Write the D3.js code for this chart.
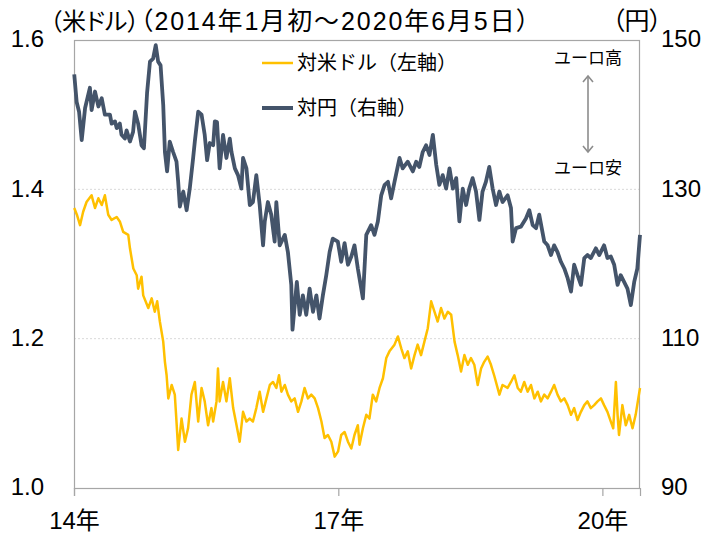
<!DOCTYPE html>
<html><head><meta charset="utf-8">
<script src="https://cdn.jsdelivr.net/npm/d3@7"></script>
<style>
html,body{margin:0;padding:0;background:#fff;}
svg{display:block;font-family:"Liberation Sans","Noto Sans CJK JP",sans-serif;}
.palt{font-feature-settings:"palt" 1;}
</style></head><body>
<svg id="chart" width="704" height="534"></svg>
<script>
// ---- data ----
const eurUsd = [
["2014-01-02",1.375],["2014-01-13",1.366],["2014-01-26",1.352],["2014-02-08",1.370],["2014-02-22",1.383],
["2014-03-15",1.392],["2014-03-29",1.375],["2014-04-12",1.388],["2014-04-26",1.379],["2014-05-09",1.392],
["2014-05-23",1.366],["2014-06-06",1.359],["2014-06-27",1.363],["2014-07-10",1.357],["2014-07-24",1.343],
["2014-08-14",1.339],["2014-08-21",1.321],["2014-09-04",1.294],["2014-09-18",1.285],["2014-09-24",1.267],
["2014-10-08",1.283],["2014-10-15",1.258],["2014-11-05",1.241],["2014-11-19",1.254],["2014-12-02",1.236],
["2014-12-12",1.250],["2014-12-23",1.223],["2015-01-06",1.196],["2015-01-13",1.169],["2015-01-20",1.151],
["2015-01-27",1.120],["2015-02-10",1.138],["2015-02-23",1.125],["2015-03-02",1.089],["2015-03-09",1.051],
["2015-03-23",1.093],["2015-04-06",1.062],["2015-04-19",1.080],["2015-05-03",1.125],["2015-05-17",1.142],
["2015-05-31",1.089],["2015-06-14",1.134],["2015-06-27",1.116],["2015-07-11",1.084],["2015-07-25",1.107],
["2015-08-01",1.089],["2015-08-15",1.116],["2015-08-21",1.160],["2015-08-28",1.116],["2015-09-11",1.142],
["2015-09-25",1.116],["2015-10-09",1.147],["2015-10-23",1.107],["2015-11-06",1.084],["2015-11-19",1.062],
["2015-12-03",1.102],["2015-12-17",1.089],["2015-12-31",1.093],["2016-01-13",1.089],["2016-01-27",1.107],
["2016-02-10",1.129],["2016-02-24",1.102],["2016-03-09",1.120],["2016-03-23",1.138],["2016-04-05",1.142],
["2016-04-19",1.134],["2016-04-30",1.151],["2016-05-10",1.129],["2016-05-24",1.138],["2016-06-06",1.125],
["2016-06-20",1.116],["2016-07-04",1.120],["2016-07-18",1.102],["2016-08-01",1.116],["2016-08-14",1.134],
["2016-08-28",1.120],["2016-09-11",1.125],["2016-09-25",1.120],["2016-10-09",1.107],["2016-10-23",1.089],
["2016-11-05",1.067],["2016-11-19",1.071],["2016-12-03",1.062],["2016-12-17",1.042],["2016-12-31",1.049],
["2017-01-13",1.071],["2017-01-27",1.075],["2017-02-10",1.062],["2017-02-24",1.053],["2017-03-09",1.071],
["2017-03-23",1.084],["2017-03-30",1.058],["2017-04-13",1.080],["2017-04-27",1.098],["2017-05-10",1.093],
["2017-05-24",1.125],["2017-06-07",1.116],["2017-06-21",1.134],["2017-07-05",1.147],["2017-07-19",1.174],
["2017-08-01",1.183],["2017-08-22",1.192],["2017-09-05",1.203],["2017-09-19",1.187],["2017-10-02",1.174],
["2017-10-16",1.183],["2017-10-30",1.160],["2017-11-13",1.178],["2017-11-26",1.192],["2017-12-10",1.178],
["2017-12-24",1.196],["2018-01-07",1.214],["2018-01-21",1.250],["2018-02-04",1.236],["2018-02-17",1.223],
["2018-03-03",1.241],["2018-03-17",1.227],["2018-03-31",1.236],["2018-04-14",1.232],["2018-04-28",1.196],
["2018-05-11",1.178],["2018-05-25",1.156],["2018-06-08",1.178],["2018-06-22",1.165],["2018-07-05",1.174],
["2018-07-19",1.165],["2018-08-02",1.138],["2018-08-16",1.160],["2018-08-29",1.169],["2018-09-12",1.176],
["2018-09-26",1.165],["2018-10-10",1.150],["2018-10-31",1.125],["2018-11-13",1.138],["2018-12-04",1.134],
["2018-12-18",1.142],["2019-01-01",1.151],["2019-01-15",1.134],["2019-01-28",1.129],["2019-02-11",1.142],
["2019-02-25",1.129],["2019-03-11",1.138],["2019-03-25",1.120],["2019-04-08",1.129],["2019-04-21",1.116],
["2019-05-05",1.125],["2019-05-19",1.120],["2019-06-02",1.129],["2019-06-15",1.138],["2019-06-29",1.125],
["2019-07-13",1.116],["2019-07-27",1.120],["2019-08-10",1.111],["2019-08-24",1.098],["2019-09-06",1.107],
["2019-09-20",1.091],["2019-10-04",1.102],["2019-10-18",1.111],["2019-10-31",1.116],["2019-11-14",1.107],
["2019-11-28",1.111],["2019-12-12",1.116],["2019-12-26",1.120],["2020-01-08",1.111],["2020-01-22",1.102],
["2020-02-05",1.089],["2020-02-15",1.080],["2020-02-26",1.142],["2020-03-04",1.098],["2020-03-10",1.071],
["2020-03-24",1.111],["2020-04-07",1.084],["2020-04-21",1.098],["2020-05-05",1.080],["2020-05-18",1.098],
["2020-06-05",1.134]
];
const eurJpy = [
["2014-01-02",145.4],["2014-01-12",141.7],["2014-01-22",140.4],["2014-02-02",136.6],["2014-02-16",140.9],
["2014-03-08",143.6],["2014-03-15",140.6],["2014-03-29",143.1],["2014-04-12",141.1],["2014-04-26",142.2],
["2014-05-09",140.0],["2014-05-30",140.0],["2014-06-06",138.8],["2014-06-20",139.1],["2014-06-27",138.2],
["2014-07-10",138.8],["2014-07-17",137.3],["2014-07-31",136.8],["2014-08-07",137.9],["2014-08-21",136.4],
["2014-09-03",137.7],["2014-09-11",140.4],["2014-09-24",138.8],["2014-10-08",135.9],["2014-10-18",135.5],
["2014-10-31",142.9],["2014-11-12",147.1],["2014-11-25",147.5],["2014-12-06",149.3],["2014-12-16",147.1],
["2014-12-26",146.6],["2015-01-06",141.3],["2015-01-13",135.0],["2015-01-22",132.4],["2015-02-02",136.4],
["2015-02-16",135.0],["2015-03-02",133.7],["2015-03-09",131.0],["2015-03-16",127.7],["2015-03-30",129.7],
["2015-04-13",127.2],["2015-04-26",130.1],["2015-05-10",134.2],["2015-05-17",136.4],["2015-05-31",140.4],
["2015-06-14",140.0],["2015-06-27",137.3],["2015-07-07",133.9],["2015-07-18",136.2],["2015-08-01",135.9],
["2015-08-08",139.1],["2015-08-17",139.0],["2015-08-28",132.8],["2015-09-11",137.3],["2015-09-25",134.2],
["2015-10-09",136.8],["2015-10-16",135.0],["2015-10-30",132.8],["2015-11-12",131.9],["2015-11-26",130.1],
["2015-12-03",134.2],["2015-12-17",132.8],["2015-12-31",127.9],["2016-01-13",128.3],["2016-01-27",131.9],
["2016-02-10",127.9],["2016-02-24",122.5],["2016-03-02",125.7],["2016-03-15",128.3],["2016-03-29",126.6],
["2016-04-12",123.0],["2016-04-19",128.3],["2016-05-03",122.5],["2016-05-24",123.9],["2016-06-06",121.6],
["2016-06-20",117.2],["2016-06-25",111.2],["2016-07-13",117.6],["2016-07-25",113.2],["2016-08-07",115.8],
["2016-08-21",113.2],["2016-09-04",116.7],["2016-09-18",113.6],["2016-10-02",115.8],["2016-10-15",112.7],
["2016-10-29",115.8],["2016-11-12",118.5],["2016-11-26",121.6],["2016-12-09",123.4],["2016-12-30",123.0],
["2017-01-13",120.3],["2017-01-27",122.8],["2017-02-10",119.9],["2017-02-24",121.0],["2017-03-09",122.5],
["2017-03-23",119.4],["2017-04-13",115.4],["2017-04-27",123.9],["2017-05-17",125.2],["2017-05-31",123.9],
["2017-06-14",125.7],["2017-06-28",129.2],["2017-07-12",130.6],["2017-07-26",131.0],["2017-08-08",128.8],
["2017-08-22",131.0],["2017-09-12",134.2],["2017-09-25",132.8],["2017-10-16",133.7],["2017-11-06",132.4],
["2017-11-20",133.7],["2017-12-03",133.0],["2017-12-17",135.0],["2017-12-31",135.9],["2018-01-14",134.6],
["2018-01-28",137.3],["2018-02-11",133.3],["2018-02-24",130.6],["2018-03-10",131.9],["2018-03-24",130.1],
["2018-04-07",132.8],["2018-04-21",130.1],["2018-05-05",131.5],["2018-05-18",125.7],["2018-06-01",130.1],
["2018-06-15",127.9],["2018-06-28",130.1],["2018-07-12",131.5],["2018-07-26",129.7],["2018-08-09",125.9],
["2018-08-22",129.7],["2018-09-05",131.0],["2018-09-19",133.0],["2018-10-03",130.1],["2018-10-17",127.9],
["2018-10-31",129.7],["2018-11-13",128.3],["2018-12-04",129.2],["2018-12-18",127.5],["2018-12-25",123.0],
["2019-01-08",124.8],["2019-01-28",125.0],["2019-02-18",126.1],["2019-03-04",127.2],["2019-03-18",125.2],
["2019-04-01",124.8],["2019-04-14",126.6],["2019-05-05",123.0],["2019-05-19",122.5],["2019-06-02",121.2],
["2019-06-15",122.5],["2019-06-29",121.6],["2019-07-13",120.3],["2019-07-27",119.4],["2019-08-10",118.1],
["2019-08-24",116.3],["2019-09-06",119.9],["2019-09-20",118.5],["2019-10-04",117.2],["2019-10-18",120.8],
["2019-10-31",121.2],["2019-11-14",120.8],["2019-12-05",122.1],["2019-12-19",121.2],["2020-01-08",122.5],
["2020-01-22",120.8],["2020-02-05",121.0],["2020-02-19",119.9],["2020-03-04",117.2],["2020-03-17",118.5],
["2020-03-31",117.6],["2020-04-14",116.7],["2020-04-28",114.5],["2020-05-12",117.6],["2020-05-25",119.4],
["2020-06-05",123.9]
];
const leftTicks = [1.0, 1.2, 1.4, 1.6];
const rightTicks = [90, 110, 130, 150];
const gridTicks = [1.2, 1.4];
const xTickDates = ["2014-01-01", "2017-01-01", "2020-01-01"];
const xTickLabels = ["14年", "17年", "20年"];
const xDomain = ["2014-01-01", "2020-06-05"];
const leftDomain = [1.0, 1.6];
const rightDomain = [90, 150];
const seriesNames = ["対米ドル（左軸）", "対円（右軸）"];
const titleLeft = "（米ドル）";
const titleRange = "（2014年1月初～2020年6月5日）";
const titleRight = "（円）";
const noteUp = "ユーロ高";
const noteDown = "ユーロ安";

// ---- drawing ----
const W = 704, H = 534;
const m = {left: 74, right: 64, top: 40, bottom: 46};
const svg = d3.select("#chart");
const parse = d3.timeParse("%Y-%m-%d");
const x = d3.scaleTime().domain(xDomain.map(parse)).range([m.left, W - m.right]);
const yL = d3.scaleLinear().domain(leftDomain).range([H - m.bottom, m.top]);
const yR = d3.scaleLinear().domain(rightDomain).range([H - m.bottom, m.top]);
const gray = "#A6A6A6";
const YELLOW = "#FFC000", NAVY = "#44546A";
const TICK_FS = 24;

// grid
svg.append("g").selectAll("line").data(gridTicks).join("line")
  .attr("x1", m.left).attr("x2", W - m.right)
  .attr("y1", d => yL(d)).attr("y2", d => yL(d))
  .attr("stroke", "#D9D9D9").attr("stroke-width", 1).attr("stroke-dasharray", "2,2");

// plot border
svg.append("rect")
  .attr("x", m.left + 0.5).attr("y", m.top + 0.5)
  .attr("width", W - m.left - m.right - 1).attr("height", H - m.top - m.bottom)
  .attr("fill", "none").attr("stroke", gray).attr("stroke-width", 1.2);

// bottom axis
const gx = svg.append("g").attr("transform", `translate(0,${H - m.bottom})`)
  .call(d3.axisBottom(x).tickValues(xTickDates.map(parse))
    .tickFormat((d, i) => xTickLabels[i]).tickSize(8).tickPadding(16));
gx.select(".domain").attr("stroke", gray).attr("stroke-width", 1.2);
gx.selectAll(".tick line").attr("stroke", gray).attr("stroke-width", 1.2);
gx.selectAll(".tick text").attr("font-size", TICK_FS).attr("fill", "#000")
  .attr("font-family", "'Liberation Sans','Noto Sans CJK JP',sans-serif");

// left axis
const gl = svg.append("g").attr("transform", `translate(${m.left},0)`)
  .call(d3.axisLeft(yL).tickValues(leftTicks).tickFormat(d3.format(".1f")).tickSize(0).tickPadding(30));
gl.select(".domain").remove();
gl.selectAll(".tick text").attr("font-size", TICK_FS).attr("fill", "#000").attr("dy", "0.28em")
  .attr("font-family", "'Liberation Sans',sans-serif");

// right axis
const gr = svg.append("g").attr("transform", `translate(${W - m.right},0)`)
  .call(d3.axisRight(yR).tickValues(rightTicks).tickSize(0).tickPadding(21));
gr.select(".domain").remove();
gr.selectAll(".tick text").attr("font-size", TICK_FS).attr("fill", "#000").attr("dy", "0.28em")
  .attr("font-family", "'Liberation Sans',sans-serif");

// lines
const lineUsd = d3.line().x(d => x(parse(d[0]))).y(d => yL(d[1]));
const lineJpy = d3.line().x(d => x(parse(d[0]))).y(d => yR(d[1]));
svg.append("path").datum(eurUsd).attr("d", lineUsd)
  .attr("fill", "none").attr("stroke", YELLOW).attr("stroke-width", 2.5).attr("stroke-linejoin", "round");
svg.append("path").datum(eurJpy).attr("d", lineJpy)
  .attr("fill", "none").attr("stroke", NAVY).attr("stroke-width", 3.8).attr("stroke-linejoin", "round");

// titles
svg.append("text").attr("class", "palt").attr("x", 50).attr("y", 30).attr("font-size", 24).attr("fill", "#000")
  .text(titleLeft);
svg.append("text").attr("class", "palt").attr("x", 140).attr("y", 30).attr("font-size", 25).attr("fill", "#000")
  .attr("letter-spacing", "1.9px").text(titleRange);
svg.append("text").attr("class", "palt").attr("x", 612).attr("y", 30).attr("font-size", 25).attr("fill", "#000")
  .text(titleRight);

// legend
const legend = [{name: seriesNames[0], color: YELLOW, w: 2.5, y: 63}, {name: seriesNames[1], color: NAVY, w: 4, y: 108}];
const lg = svg.append("g").selectAll("g").data(legend).join("g");
lg.append("line").attr("x1", 262).attr("x2", 293).attr("y1", d => d.y).attr("y2", d => d.y)
  .attr("stroke", d => d.color).attr("stroke-width", d => d.w);
lg.append("text").attr("x", 297).attr("y", d => d.y).attr("dy", "0.35em").attr("font-size", 20).attr("fill", "#000")
  .text(d => d.name);

// annotation
svg.append("text").attr("x", 588).attr("y", 58).attr("dy", "0.35em").attr("text-anchor", "middle")
  .attr("font-size", 17).attr("fill", "#000").text(noteUp);
svg.append("text").attr("x", 588).attr("y", 168).attr("dy", "0.35em").attr("text-anchor", "middle")
  .attr("font-size", 17).attr("fill", "#000").text(noteDown);
const ag = svg.append("g").attr("stroke", "#8C8C8C").attr("stroke-width", 1.6).attr("fill", "none");
ag.append("line").attr("x1", 588).attr("x2", 588).attr("y1", 76).attr("y2", 152);
ag.append("path").attr("d", "M583,82 L588,76 L593,82");
ag.append("path").attr("d", "M583,146 L588,152 L593,146");
</script>
</body></html>
